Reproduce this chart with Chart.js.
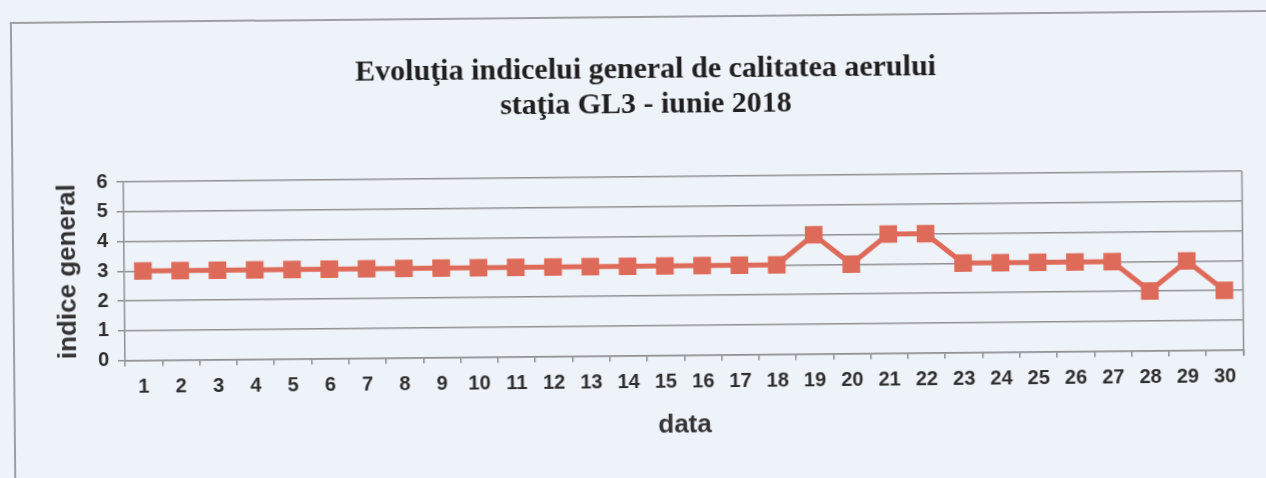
<!DOCTYPE html>
<html lang="ro">
<head>
    <meta charset="UTF-8">
    <title>Evoluţia indicelui general de calitatea aerului</title>
    <script src="https://cdn.jsdelivr.net/npm/chart.js"></script>
    <style>
        html, body {
            margin: 0;
            padding: 0;
            background: #eef3f9;
            overflow: hidden;
        }
        #page {
            position: relative;
            width: 1266px;
            height: 478px;
            transform: rotate(-0.55deg);
            transform-origin: 633px 239px;
        }
        #frame {
            position: absolute;
            left: 12px;
            top: 16px;
            width: 1320px;
            height: 520px;
            border-top: 2px solid #9c9fa3;
            border-left: 2px solid #9c9fa3;
        }
        canvas {
            position: absolute;
            left: 0;
            top: 0;
        }
    </style>
</head>
<body>
    <div id="page">
        <div id="frame"></div>
        <canvas id="aqChart" width="1266" height="478"></canvas>
    </div>

    <script>
        // data
        const days = ['1', '2', '3', '4', '5', '6', '7', '8', '9', '10',
                      '11', '12', '13', '14', '15', '16', '17', '18', '19', '20',
                      '21', '22', '23', '24', '25', '26', '27', '28', '29', '30'];
        const indiceGeneral = [3, 3, 3, 3, 3, 3, 3, 3, 3, 3,
                               3, 3, 3, 3, 3, 3, 3, 3, 4, 3,
                               4, 4, 3, 3, 3, 3, 3, 2, 3, 2];
        const yTicks = [0, 1, 2, 3, 4, 5, 6];

        const titleLines = ['Evoluţia indicelui general de calitatea aerului', 'staţia GL3 - iunie 2018'];

        const gridColor = '#8e9093';
        const lineColor = '#de6b5a';

        // right edge of the plot area is framed like in Excel
        const plotFrame = {
            id: 'plotFrame',
            afterDraw(chart) {
                const {ctx, chartArea} = chart;
                ctx.save();
                ctx.strokeStyle = gridColor;
                ctx.lineWidth = 1.5;
                ctx.beginPath();
                ctx.moveTo(chartArea.right, chartArea.top);
                ctx.lineTo(chartArea.right, chartArea.bottom + 6);
                ctx.stroke();
                ctx.restore();
            }
        };

        const ctx = document.getElementById('aqChart').getContext('2d');
        new Chart(ctx, {
            type: 'line',
            data: {
                labels: days,
                datasets: [{
                    label: 'indice general',
                    data: indiceGeneral,
                    borderColor: lineColor,
                    backgroundColor: lineColor,
                    borderWidth: 5,
                    pointStyle: 'rect',
                    pointRadius: 12.5,
                    pointBorderWidth: 0,
                    pointBackgroundColor: lineColor,
                    tension: 0
                }]
            },
            options: {
                responsive: false,
                animation: false,
                layout: {
                    padding: { left: 52, right: 23.5, top: 0, bottom: 37 }
                },
                plugins: {
                    legend: { display: false },
                    tooltip: { enabled: false },
                    title: {
                        display: true,
                        text: titleLines,
                        color: '#1f1f1f',
                        font: { family: '"Liberation Serif", "Times New Roman", serif', size: 30, weight: 'bold', lineHeight: 35 / 30 },
                        padding: { top: 52.5, bottom: 54.5 }
                    }
                },
                scales: {
                    x: {
                        offset: true,
                        afterFit: scale => { scale.height = 85.5; },
                        grid: {
                            offset: true,
                            drawOnChartArea: false,
                            drawTicks: true,
                            tickLength: 6,
                            color: gridColor,
                            lineWidth: 1.5
                        },
                        border: { display: true, color: gridColor, width: 1.5 },
                        ticks: {
                            color: '#2e2e2e',
                            padding: 9,
                            maxRotation: 0,
                            autoSkip: false,
                            font: { family: '"Liberation Sans", Arial, sans-serif', size: 20, weight: 'bold' }
                        },
                        title: {
                            display: true,
                            text: 'data',
                            color: '#333333',
                            padding: 0,
                            font: { family: '"Liberation Sans", Arial, sans-serif', size: 26, weight: 'bold' }
                        }
                    },
                    y: {
                        min: yTicks[0],
                        max: yTicks[yTicks.length - 1],
                        afterFit: scale => { scale.width = 72; },
                        grid: {
                            color: gridColor,
                            lineWidth: 1.5,
                            drawTicks: true,
                            tickLength: 7
                        },
                        border: { display: true, color: gridColor, width: 1.5 },
                        ticks: {
                            stepSize: 1,
                            color: '#2e2e2e',
                            padding: 9,
                            font: { family: '"Liberation Sans", Arial, sans-serif', size: 20, weight: 'bold' }
                        },
                        title: {
                            display: true,
                            text: 'indice general',
                            color: '#333333',
                            padding: 0,
                            font: { family: '"Liberation Sans", Arial, sans-serif', size: 26, weight: 'bold' }
                        }
                    }
                }
            },
            plugins: [plotFrame]
        });
    </script>
</body>
</html>
